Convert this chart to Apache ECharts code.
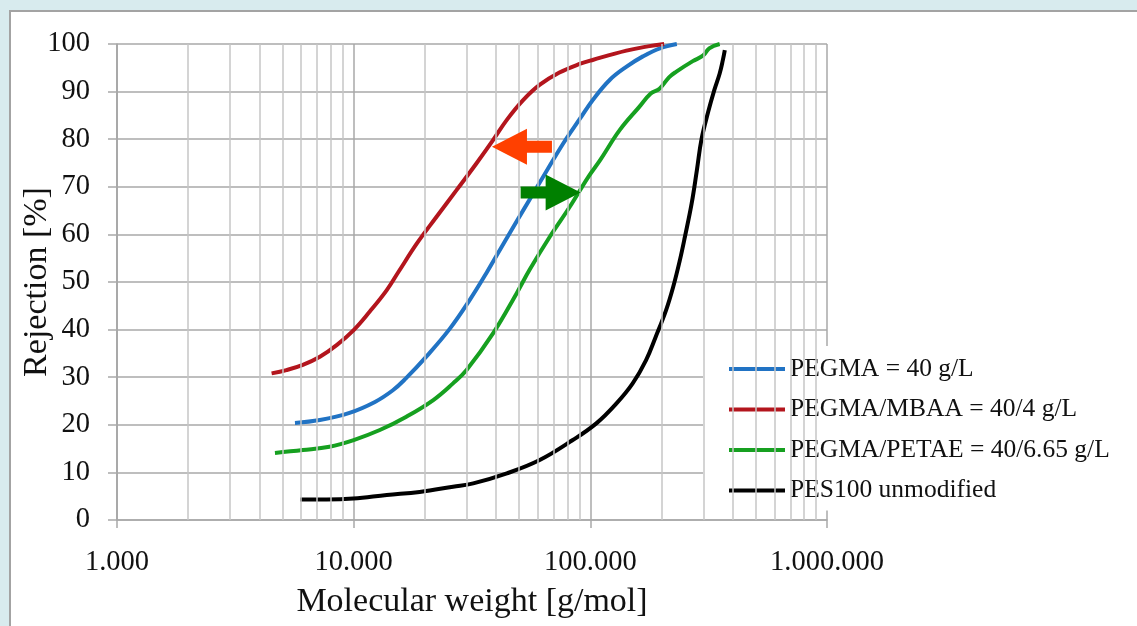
<!DOCTYPE html>
<html>
<head>
<meta charset="utf-8">
<script src="https://cdn.jsdelivr.net/npm/echarts@6/dist/echarts.min.js"></script>
<style>
  body { margin: 0; background: #d8ebee; }
  #panel { position: absolute; left: 9px; top: 10px; width: 1130px; height: 620px;
           background: #fff; border-left: 2px solid #a3a3a3; border-top: 2px solid #a3a3a3; }
  #chart { position: absolute; left: 0; top: 0; width: 1137px; height: 626px; }
</style>
</head>
<body>
<div id="panel"></div>
<div id="chart"></div>
<script>
// series names
const seriesNames = ['PEGMA = 40 g/L', 'PEGMA/MBAA = 40/4 g/L', 'PEGMA/PETAE = 40/6.65 g/L', 'PES100 unmodified']

// molecular weight [g/mol] and rejection [%]
const pegmaX = [5650, 7200, 9600, 12300, 14600, 16500, 20500, 25500, 31000, 36500, 42900, 52100, 63200, 76800, 90400, 102600, 121000, 142800, 166800, 196800, 232000]
const pegmaY = [20.4, 21.0, 22.5, 24.8, 27.2, 29.6, 34.6, 40.2, 46.3, 52.0, 58.0, 65.1, 72.1, 79.1, 84.3, 88.3, 92.5, 95.3, 97.4, 99.1, 100]

const mbaaX = [4500, 5200, 6100, 7200, 8500, 10000, 11700, 13800, 15500, 18500, 22400, 27200, 33000, 38800, 44300, 52000, 61000, 74000, 90000, 103000, 142000, 175000, 205000]
const mbaaY = [30.8, 31.5, 32.6, 34.3, 36.8, 39.9, 43.8, 48.3, 52.2, 58.1, 63.7, 69.3, 74.9, 79.8, 84.0, 88.2, 91.4, 94.0, 95.8, 96.7, 98.6, 99.5, 100]

const petaeX = [4650, 6100, 7900, 10000, 12900, 16700, 21700, 26300, 30000, 38800, 48800, 55300, 67400, 81900, 98100, 110000, 133000, 161000, 180000, 196000, 215000, 231000, 271000, 300000, 318000, 352000]
const petaeY = [14.1, 14.7, 15.4, 16.8, 18.9, 21.7, 25.2, 28.7, 31.5, 39.2, 47.6, 52.5, 59.5, 65.8, 72.1, 75.6, 81.9, 86.8, 89.6, 90.6, 93.0, 94.2, 96.4, 97.6, 99.1, 100]

const pesX = [5940, 7680, 9960, 13800, 19000, 26300, 32000, 44400, 61100, 84300, 106000, 129000, 151000, 172000, 189000, 209000, 224000, 239000, 251000, 268000, 282000, 295000, 315000, 334000, 352000, 363000, 370000]
const pesY = [4.3, 4.3, 4.5, 5.25, 5.9, 7.0, 7.7, 9.8, 12.6, 16.8, 20.3, 24.5, 28.7, 33.6, 38.5, 44.1, 49.0, 54.6, 59.5, 66.5, 73.5, 80.0, 85.8, 90.3, 93.8, 96.6, 98.7]

// axis ticks
const xTickLabels = ['1.000', '10.000', '100.000', '1.000.000']
const minorGridX = []
for (let d = 1000; d < 1000000; d *= 10) {
  for (let m = 2; m <= 9; m++) minorGridX.push(m * d)
}

// arrow annotations: tip position in data coords
const redArrowTip = [38400, 78.4]
const greenArrowTip = [91000, 68.8]

const colors = ['#2173c4', '#b3151d', '#16a020', '#000000']
const font = 'Liberation Serif'
const gridColor = '#a9a9a9'

function pairs(xs, ys) {
  return xs.map((x, i) => [x, ys[i]])
}

const chart = echarts.init(document.getElementById('chart'))

const option = {
  animation: false,
  grid: { left: 117, right: 310, top: 44, bottom: 106, containLabel: false, outerBoundsMode: 'none' },
  legend: {
    data: seriesNames,
    orient: 'vertical',
    left: 703,
    top: 346,
    padding: [10, 20, 7, 24],
    itemGap: 14.5,
    itemWidth: 56,
    itemHeight: 14,
    backgroundColor: '#fff',
    lineStyle: { width: 4 },
    itemStyle: { opacity: 0 },
    textStyle: { fontFamily: font, fontSize: 25.5, color: '#111' }
  },
  xAxis: {
    type: 'log',
    logBase: 10,
    min: 1000,
    max: 1000000,
    name: 'Molecular weight [g/mol]',
    nameLocation: 'middle',
    nameGap: 65,
    nameMoveOverlap: false,
    nameTextStyle: { fontFamily: font, fontSize: 34, color: '#111' },
    axisLine: { lineStyle: { color: gridColor, width: 1.5 } },
    axisTick: { length: 8, lineStyle: { color: gridColor, width: 1.5 } },
    axisLabel: {
      margin: 28,
      fontFamily: font,
      fontSize: 28.5,
      color: '#111',
      formatter: v => xTickLabels[Math.round(Math.log10(v)) - 3] || ''
    },
    splitLine: { show: true, lineStyle: { color: gridColor, width: 1.5 } }
  },
  yAxis: {
    type: 'value',
    min: 0,
    max: 100,
    interval: 10,
    name: 'Rejection [%]',
    nameLocation: 'middle',
    nameGap: 63,
    nameMoveOverlap: false,
    nameTextStyle: { fontFamily: font, fontSize: 34, color: '#111' },
    axisLine: { show: true, lineStyle: { color: gridColor, width: 1.5 } },
    axisTick: { show: true, length: 9, lineStyle: { color: gridColor, width: 1.5 } },
    axisLabel: { margin: 27, fontFamily: font, fontSize: 28.5, color: '#111' },
    splitLine: { show: true, lineStyle: { color: gridColor, width: 1.5 } }
  },
  series: [
    {
      name: 'grid',
      type: 'line',
      data: [[1000, 0]],
      symbol: 'none',
      lineStyle: { width: 0 },
      silent: true,
      markLine: {
        silent: true,
        symbol: 'none',
        label: { show: false },
        lineStyle: { color: '#c6c6c6', width: 1.5, type: 'solid' },
        data: minorGridX.map(v => ({ xAxis: v }))
      }
    },
    { name: seriesNames[0], data: pairs(pegmaX, pegmaY) },
    { name: seriesNames[1], data: pairs(mbaaX, mbaaY) },
    { name: seriesNames[2], data: pairs(petaeX, petaeY) },
    { name: seriesNames[3], data: pairs(pesX, pesY) }
  ].map((s, i) => i === 0 ? s : Object.assign({
    type: 'line',
    smooth: 0.4,
    symbol: 'none',
    color: colors[i - 1],
    lineStyle: { width: 4, color: colors[i - 1] }
  }, s))
}

chart.setOption(option)

// arrows positioned from data coordinates
function arrow(tip, dir, color) {
  const p = chart.convertToPixel({ gridIndex: 0 }, tip)
  const pts = [[0, 0], [35, -18], [35, -6], [60, -6], [60, 6], [35, 6], [35, 18]]
  return {
    type: 'polygon',
    z: 100,
    shape: { points: pts.map(q => [p[0] + dir * q[0], p[1] + q[1]]) },
    style: { fill: color }
  }
}

chart.setOption({
  graphic: [
    arrow(redArrowTip, 1, '#ff4000'),
    arrow(greenArrowTip, -1, '#008000')
  ]
})
</script>
</body>
</html>
